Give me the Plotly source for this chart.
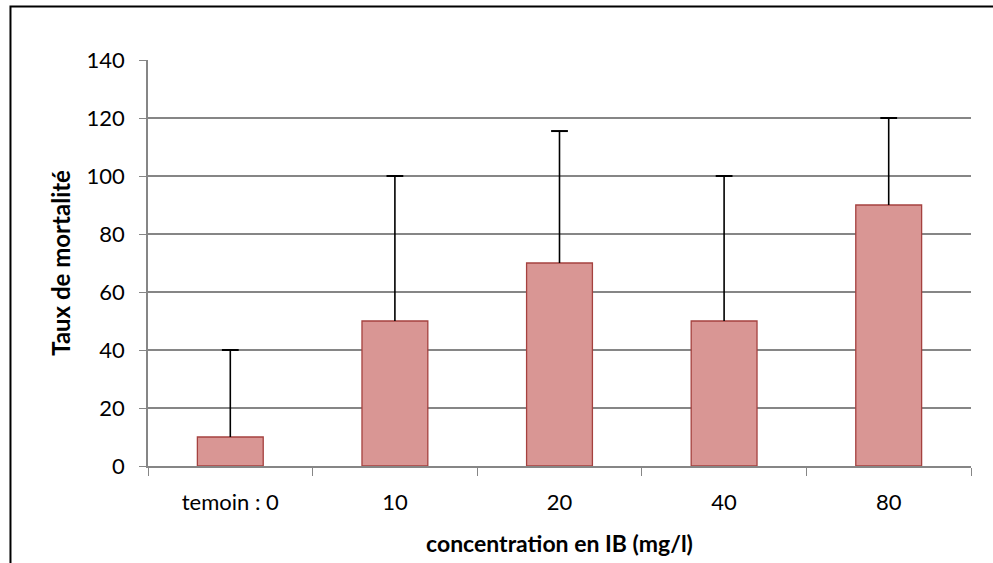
import plotly.graph_objects as go

categories = ["temoin : 0", "10", "20", "40", "80"]
mortality = [10, 50, 70, 50, 90]
error_up = [30, 50, 45.5, 50, 30]
y_ticks = [0, 20, 40, 60, 80, 100, 120, 140]

FONT = "Lato, Open Sans, sans-serif"

fig = go.Figure()
fig.add_trace(go.Bar(
    x=categories, y=mortality, width=0.4,
    marker=dict(color="#D99694", line=dict(color="#A5413F", width=1.3)),
    showlegend=False, hoverinfo="skip"
))

# error stems (upward only)
sx, sy = [], []
for c, v, e in zip(categories, mortality, error_up):
    sx += [c, c, None]
    sy += [v, v + e, None]
fig.add_trace(go.Scatter(x=sx, y=sy, mode="lines",
                         line=dict(color="black", width=1.6),
                         showlegend=False, hoverinfo="skip"))
fig.add_trace(go.Scatter(
    x=categories, y=[v + e for v, e in zip(mortality, error_up)],
    mode="markers",
    marker=dict(symbol="line-ew-open", size=12, color="black",
                line=dict(color="black", width=2)),
    showlegend=False, hoverinfo="skip"))

fig.update_layout(
    width=993, height=563,
    margin=dict(l=148, r=22, t=60, b=97),
    paper_bgcolor="white", plot_bgcolor="white",
    font=dict(family=FONT, size=22, color="black"),
    bargap=0.6,
    xaxis=dict(
        type="category", tickson="boundaries", ticks="outside", ticklen=8,
        tickcolor="#868686", showline=True, linecolor="#868686", linewidth=1.5,
        showgrid=False, tickfont=dict(size=22), ticklabelstandoff=16, automargin=False,
        title=dict(text="<b>concentration en IB (mg/l)</b>", font=dict(size=23), standoff=22),
    ),
    yaxis=dict(
        range=[0, 140], tickvals=y_ticks, ticks="outside", ticklen=7,
        tickcolor="#868686", showline=True, linecolor="#868686", linewidth=1.5,
        showgrid=True, gridcolor="#868686", gridwidth=1.5, zeroline=False,
        tickfont=dict(size=22), ticklabelstandoff=10, automargin=False,
        title=dict(text="<b>Taux de mortalité</b>", font=dict(size=24), standoff=9),
    ),
    shapes=[dict(type="rect", xref="paper", yref="paper",
                 x0=-0.1671, x1=1.03, y0=-0.25, y1=1.1316,
                 line=dict(color="black", width=2), fillcolor="rgba(0,0,0,0)",
                 layer="above")],
)

fig.write_html("out.html", config={"displayModeBar": False},
               post_script="document.body.style.margin='0';document.body.style.padding='0';")
